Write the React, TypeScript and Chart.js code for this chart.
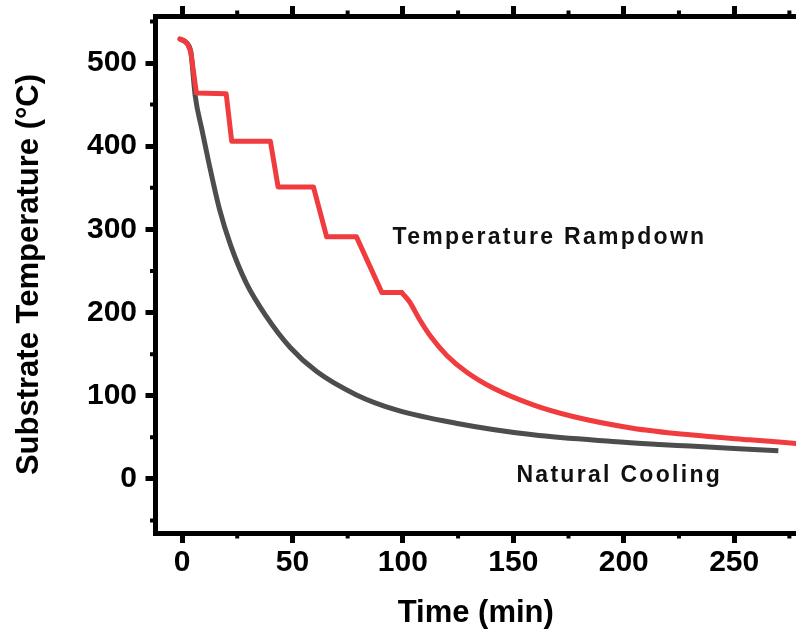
import React, { useEffect, useRef } from "react";
import { Chart, registerables } from "chart.js";

Chart.register(...registerables);

// Temperature rampdown (red) – stepped part, time in minutes, temperature in °C
const rampStepTime = [-1, 1, 2.5, 4, 6.5, 20, 22.5, 40, 43.5, 59.5, 65.5, 79, 90.5, 99.5];
const rampStepTemp = [529, 527, 523, 513, 464, 463, 406, 406, 351, 351, 291, 291, 224, 224];
// Temperature rampdown (red) – free decay after the last step
const rampDecayTime = [99.5, 103, 107.5, 112.8, 119.9, 128.8, 141.3, 159, 177, 204, 230, 257, 279];
const rampDecayTemp = [224, 213, 192, 170.5, 148.5, 128.6, 108.6, 89, 75, 61, 53, 47, 42.5];

// Natural cooling (dark grey)
const coolTime = [-1, 2.5, 4, 6, 9, 12, 17, 22, 29, 38, 49, 61, 79, 97, 124, 159, 195, 216, 230, 250, 270];
const coolTemp = [529, 523, 513, 460, 420, 382, 324, 281, 236, 196, 158, 129, 101, 83, 67, 53, 45, 41.5, 39.5, 36.5, 34];

const xMajorStep = 50;
const yMajorStep = 100;
const xMinorTicks = [25, 75, 125, 175, 225, 275];
const yMinorTicks = [-50, 50, 150, 250, 350, 450, 550];

const xRange = [-12, 278];
const yRange = [-65, 556.5];

const annotations = [
  { text: "Temperature Rampdown", x: 95.3, y: 281.9 },
  { text: "Natural Cooling", x: 151.4, y: -3.6 },
];

const RED = "#f03c3e";
const GREY = "#4d4d4d";
const FONT = '"Liberation Sans", Arial, sans-serif';

const minorTickPlugin = {
  id: "minorTicks",
  afterDraw(chart: any) {
    const { ctx, chartArea, scales } = chart;
    const xs = scales.x;
    const ys = scales.y;
    const len = 5.5;
    ctx.save();
    ctx.strokeStyle = "#000";
    ctx.lineWidth = 4;
    ctx.beginPath();
    for (const v of xMinorTicks) {
      const px = xs.getPixelForValue(v);
      if (px < chartArea.left || px > chartArea.right + 1) continue;
      ctx.moveTo(px, chartArea.bottom);
      ctx.lineTo(px, chartArea.bottom + len);
      ctx.moveTo(px, chartArea.top);
      ctx.lineTo(px, chartArea.top - len);
    }
    for (const v of yMinorTicks) {
      const py = ys.getPixelForValue(v);
      if (py < chartArea.top || py > chartArea.bottom) continue;
      ctx.moveTo(chartArea.left, py);
      ctx.lineTo(chartArea.left - len, py);
    }
    ctx.stroke();
    ctx.restore();
  },
};

const annotationPlugin = {
  id: "annotations",
  afterDatasetsDraw(chart: any) {
    const { ctx, scales } = chart;
    ctx.save();
    ctx.fillStyle = "#111";
    ctx.font = `bold 23px ${FONT}`;
    (ctx as any).letterSpacing = "2.3px";
    ctx.textAlign = "left";
    ctx.textBaseline = "alphabetic";
    for (const a of annotations) {
      ctx.fillText(a.text, scales.x.getPixelForValue(a.x), scales.y.getPixelForValue(a.y));
    }
    ctx.restore();
  },
};

export default function App() {
  const ref = useRef<HTMLCanvasElement | null>(null);

  useEffect(() => {
    if (!ref.current) return;
    const stepData = rampStepTime.map((t, i) => ({ x: t, y: rampStepTemp[i] }));
    const decayData = rampDecayTime.map((t, i) => ({ x: t, y: rampDecayTemp[i] }));
    const coolData = coolTime.map((t, i) => ({ x: t, y: coolTemp[i] }));

    const gridOpts = {
      drawOnChartArea: false,
      drawTicks: true,
      tickLength: 10,
      lineWidth: 5,
      color: "#000",
      tickColor: "#000",
    };
    const borderOpts = { display: true, width: 5, color: "#000" };

    const chart = new Chart(ref.current, {
      type: "line",
      data: {
        datasets: [
          {
            label: "Temperature Rampdown",
            data: stepData,
            borderColor: RED,
            borderWidth: 5,
            pointRadius: 0,
            tension: 0,
            borderJoinStyle: "round",
            borderCapStyle: "round",
            fill: false,
          },
          {
            label: "Temperature Rampdown (decay)",
            data: decayData,
            borderColor: RED,
            borderWidth: 5,
            pointRadius: 0,
            cubicInterpolationMode: "monotone",
            borderCapStyle: "round",
            fill: false,
          },
          {
            label: "Natural Cooling",
            data: coolData,
            borderColor: GREY,
            borderWidth: 5,
            pointRadius: 0,
            cubicInterpolationMode: "monotone",
            fill: false,
          },
        ],
      },
      options: {
        animation: false,
        responsive: false,
        devicePixelRatio: 1,
        layout: { padding: 0 },
        plugins: { legend: { display: false }, tooltip: { enabled: false } },
        scales: {
          x: {
            type: "linear",
            position: "bottom",
            min: xRange[0],
            max: xRange[1],
            grid: gridOpts,
            border: borderOpts,
            ticks: {
              stepSize: xMajorStep,
              includeBounds: false,
              padding: 1.5,
              color: "#000",
              font: { family: FONT, size: 30, weight: "bold" },
              maxRotation: 0,
            },
            title: {
              display: true,
              text: "Time (min)",
              color: "#000",
              font: { family: FONT, size: 31, weight: "bold" },
              padding: { top: 0, bottom: 4.4 },
            },
            afterFit(scale: any) {
              scale.height = 103;
              scale.paddingLeft = 0;
              scale.paddingRight = 0;
            },
          },
          xTop: {
            type: "linear",
            position: "top",
            min: xRange[0],
            max: xRange[1],
            grid: gridOpts,
            border: borderOpts,
            ticks: { stepSize: xMajorStep, includeBounds: false, display: false },
            afterFit(scale: any) {
              scale.height = 16;
              scale.paddingLeft = 0;
              scale.paddingRight = 0;
            },
          },
          y: {
            type: "linear",
            position: "left",
            min: yRange[0],
            max: yRange[1],
            grid: gridOpts,
            border: borderOpts,
            ticks: {
              stepSize: yMajorStep,
              includeBounds: false,
              padding: 8.5,
              color: "#000",
              font: { family: FONT, size: 30, weight: "bold" },
            },
            title: {
              display: true,
              text: "Substrate Temperature (°C)",
              color: "#000",
              font: { family: FONT, size: 31, weight: "bold" },
              padding: { top: 10.4, bottom: 0 },
            },
            afterFit(scale: any) {
              scale.width = 155.5;
              scale.paddingTop = 0;
              scale.paddingBottom = 0;
            },
          },
        },
      } as any,
      plugins: [minorTickPlugin, annotationPlugin],
    });
    return () => chart.destroy();
  }, []);

  return (
    <div style={{ position: "absolute", left: 0, top: 0, width: 796, height: 636, background: "#fff" }}>
      <canvas ref={ref} width={796} height={636} style={{ width: "796px", height: "636px", display: "block" }} />
    </div>
  );
}
